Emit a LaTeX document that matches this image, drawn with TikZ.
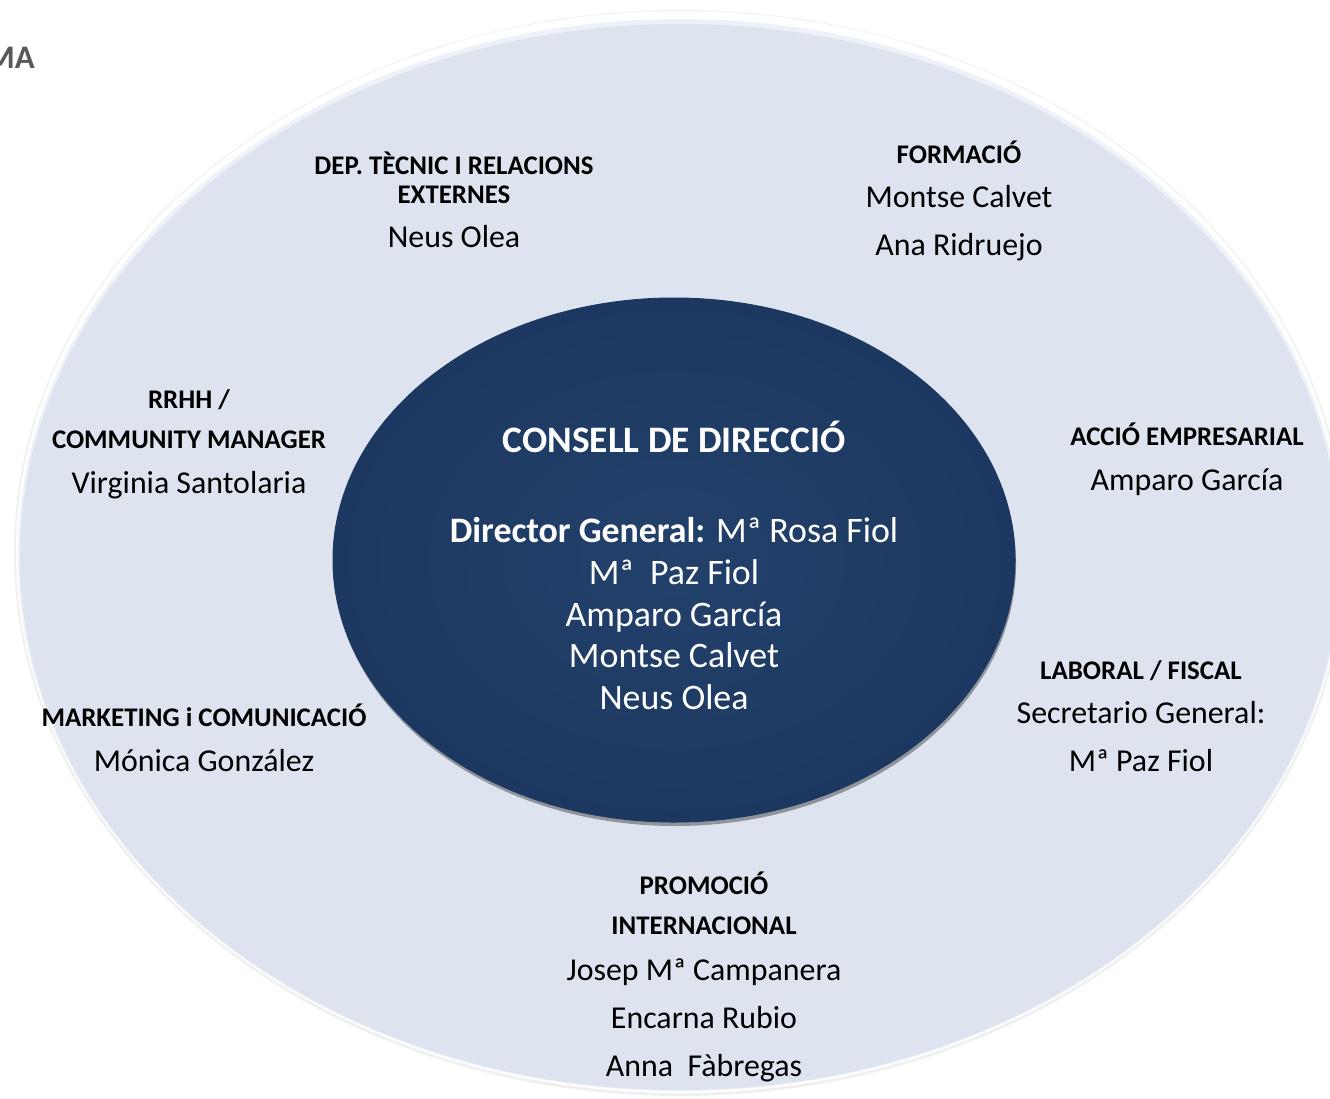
\documentclass[tikz,border=0pt]{standalone}
\usepackage{fontspec}
\setmainfont{Carlito}
\usetikzlibrary{shapes.geometric,shadows}
\definecolor{ringblue}{HTML}{DDE4EF}
\definecolor{ringmid}{HTML}{EEF2F8}
\definecolor{coreblue}{HTML}{22416B}
\definecolor{coreedge}{HTML}{1D3860}
\definecolor{titlegray}{HTML}{595959}
\tikzset{
  hd/.style={font=\bfseries\fontsize{27}{31}\selectfont, anchor=base, inner sep=0pt, text=black},
  nm/.style={font=\fontsize{32}{36}\selectfont, anchor=base, inner sep=0pt, text=black},
  ctr/.style={font=\fontsize{36}{42}\selectfont, anchor=base, inner sep=0pt, text=white},
}
\begin{document}
\begin{tikzpicture}[x=1bp,y=-1bp]
\useasboundingbox (0,0) rectangle (1330,1098);
\clip (0,0) rectangle (1330,1098);
% outer ring with soft rim
\node[ellipse, minimum width=1332bp, minimum height=1086bp, inner sep=0pt, fill=gray!12, draw=none] (shadowring) at (680,553) {};
\node[ellipse, minimum width=1328bp, minimum height=1082bp, inner sep=0pt, fill=white, draw=none] (rim) at (680,552) {};
\node[ellipse, minimum width=1324bp, minimum height=1072bp, inner sep=0pt, fill=ringmid, draw=none] (rimmid) at (680,555) {};
\node[ellipse, minimum width=1320bp, minimum height=1066bp, inner sep=0pt, fill=ringblue, draw=none] (ring) at (680,557) {};
% central ellipse
\node[ellipse, minimum width=682bp, minimum height=524bp, inner sep=0pt,
      inner color=coreblue, outer color=coreedge, draw=coreedge, line width=1bp,
      drop shadow={shadow xshift=1bp, shadow yshift=-4bp, opacity=0.35, fill=black}] (core) at (674,560) {};
% page title fragment
\node[font=\bfseries\fontsize{33}{38}\selectfont, text=titlegray, anchor=base east, inner sep=0pt] (title) at (35,68) {MA};
% central text
\node[ctr, font=\bfseries\fontsize{37.5}{42}\selectfont] (c0) at (674,452) {CONSELL DE DIRECCIÓ};
\node[ctr] (c1) at (674,542) {\textbf{Director General:} Mª Rosa Fiol};
\node[ctr] (c2) at (674,584) {Mª\ \ Paz Fiol};
\node[ctr] (c3) at (674,626) {Amparo García};
\node[ctr] (c4) at (674,667) {Montse Calvet};
\node[ctr] (c5) at (674,709) {Neus Olea};
% DEP. TECNIC
\node[hd] (d1) at (454,174) {DEP. TÈCNIC I RELACIONS};
\node[hd] (d2) at (454,203) {EXTERNES};
\node[nm] (d3) at (454,247) {Neus Olea};
% FORMACIO
\node[hd] (f1) at (959,163) {FORMACIÓ};
\node[nm] (f2) at (959,207) {Montse Calvet};
\node[nm] (f3) at (959,255) {Ana Ridruejo};
% RRHH
\node[hd] (r1) at (189,408) {RRHH /};
\node[hd] (r2) at (189,448) {COMMUNITY MANAGER};
\node[nm] (r3) at (189,493) {Virginia Santolaria};
% ACCIO EMPRESARIAL
\node[hd] (a1) at (1187,445) {ACCIÓ EMPRESARIAL};
\node[nm] (a2) at (1187,490) {Amparo García};
% LABORAL / FISCAL
\node[hd] (l1) at (1141,679) {LABORAL / FISCAL};
\node[nm] (l2) at (1141,723) {Secretario General:};
\node[nm] (l3) at (1141,771) {Mª Paz Fiol};
% MARKETING
\node[hd] (m1) at (204,726) {MARKETING i COMUNICACIÓ};
\node[nm] (m2) at (204,771) {Mónica González};
% PROMOCIO INTERNACIONAL
\node[hd] (p1) at (704,894) {PROMOCIÓ};
\node[hd] (p2) at (704,934) {INTERNACIONAL};
\node[nm] (p3) at (704,980) {Josep Mª Campanera};
\node[nm] (p4) at (704,1028) {Encarna Rubio};
\node[nm] (p5) at (704,1076) {Anna\ \ Fàbregas};
\end{tikzpicture}
\end{document}
